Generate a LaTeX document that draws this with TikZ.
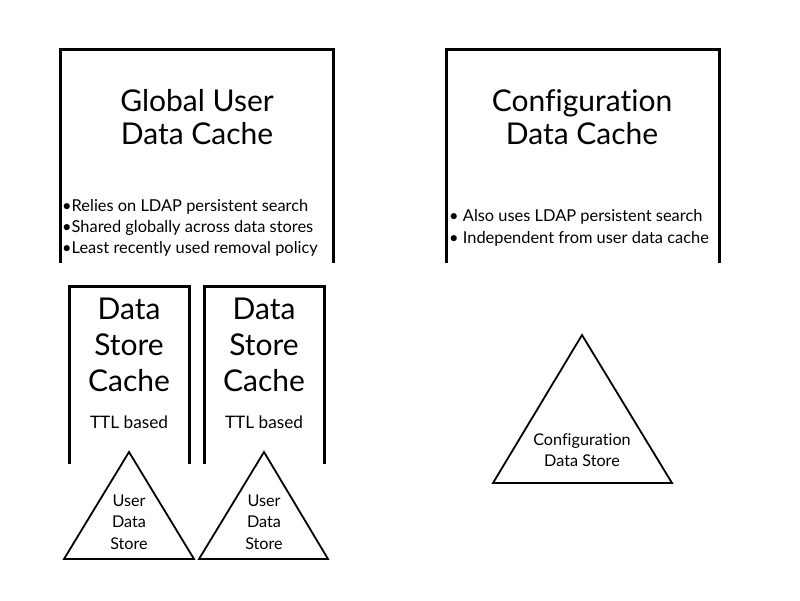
\documentclass[tikz,border=0pt]{standalone}
\usepackage{fontspec}
\setmainfont{Lato}[Ligatures=NoCommon]
\usetikzlibrary{positioning}

\begin{document}
\begin{tikzpicture}
    [
        x=1pt, y=-1pt,
        box_line/.style={draw=black, line width=3pt},
        store_line/.style={draw=black, line width=1.8pt, line join=miter},
        big_text/.style={font=\fontsize{30}{33}\selectfont, align=center, inner sep=0pt},
        cache_text/.style={font=\fontsize{30}{36}\selectfont, align=center, inner sep=0pt},
        list_text/.style={font=\fontsize{16.4}{21.3}\selectfont, align=left, inner sep=0pt},
        ttl_text/.style={font=\fontsize{17.2}{21}\selectfont, inner sep=0pt},
        small_text/.style={font=\fontsize{16.2}{21.5}\selectfont, align=center, inner sep=0pt},
    ]
        \useasboundingbox (0,0) rectangle (800,600);
        % global user data cache
        \draw[box_line] (60,263) -- (60,49) -- (333,49) -- (333,263) ;
        \node[big_text] (global) at (197,117) {Global User\\Data Cache} ;
        \node[list_text, anchor=west] (global_list) at (62,228) {\textbullet Relies on LDAP persistent search\\\textbullet Shared globally across data stores\\\textbullet Least recently used removal policy} ;
        % configuration data cache
        \draw[box_line] (446,263) -- (446,49) -- (719,49) -- (719,263) ;
        \node[big_text] (config) at (582,117) {Configuration\\Data Cache} ;
        \node[list_text, anchor=west] (config_list) at (449,228) {\textbullet{} Also uses LDAP persistent search\\\textbullet{} Independent from user data cache} ;
        % data store caches
        \draw[box_line] (69,464) -- (69,286) -- (189,286) -- (189,464) ;
        \node[cache_text] (cache1) at (129,345) {Data\\Store\\Cache} ;
        \node[ttl_text] (ttl1) at (129,422) {TTL based} ;
        \draw[box_line] (204,464) -- (204,286) -- (324,286) -- (324,464) ;
        \node[cache_text] (cache2) at (264,345) {Data\\Store\\Cache} ;
        \node[ttl_text] (ttl2) at (264,422) {TTL based} ;
        % data stores
        \draw[store_line] (129,452) -- (194,559) -- (64,559) -- cycle ;
        \node[small_text] (store1) at (129,522) {User\\Data\\Store} ;
        \draw[store_line] (264,452) -- (328,559) -- (199,559) -- cycle ;
        \node[small_text] (store2) at (264,522) {User\\Data\\Store} ;
        \draw[store_line] (582,335) -- (672,483) -- (493,483) -- cycle ;
        \node[small_text] (config_store) at (582,450) {Configuration\\Data Store} ;
\end{tikzpicture}
\end{document}
